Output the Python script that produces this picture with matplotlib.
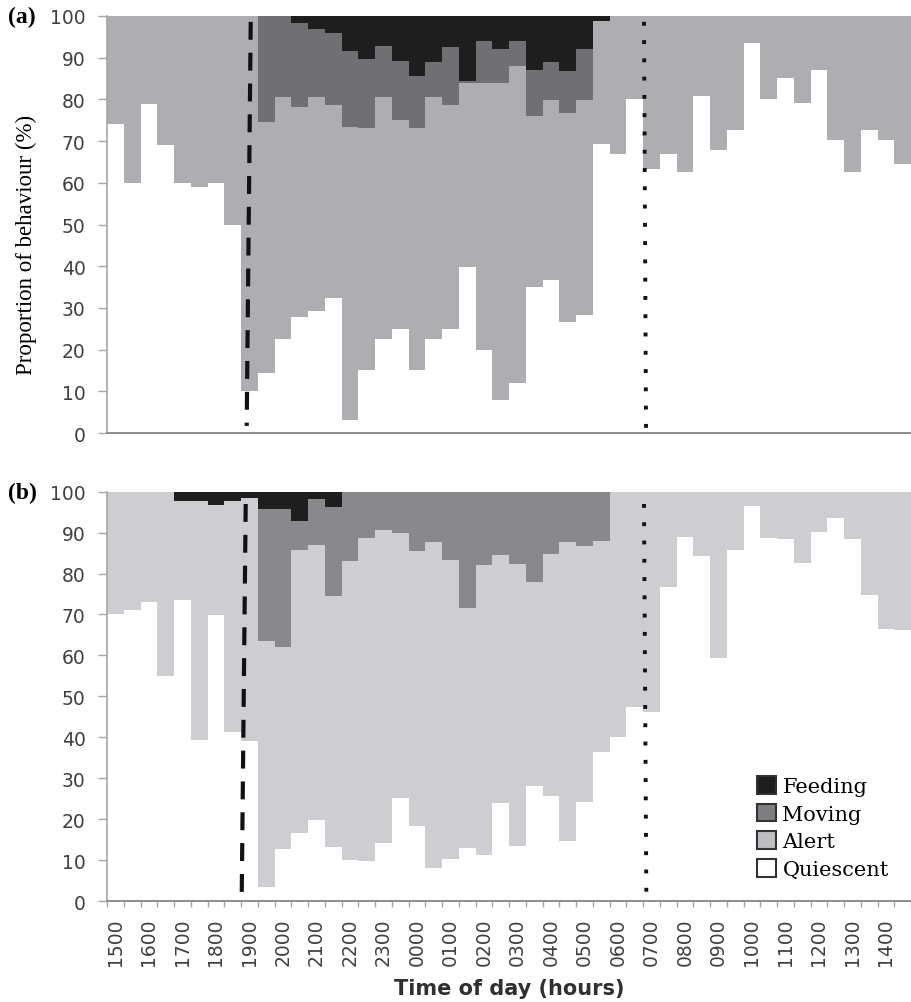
import matplotlib
matplotlib.use("Agg")
import matplotlib.pyplot as plt
from matplotlib.patches import Patch
import numpy as np

# half-hour bins, 1500 -> 1430 next day
hours = ["1500", "1600", "1700", "1800", "1900", "2000", "2100", "2200",
         "2300", "0000", "0100", "0200", "0300", "0400", "0500", "0600",
         "0700", "0800", "0900", "1000", "1100", "1200", "1300", "1400"]
behaviours = ["Feeding", "Moving", "Alert", "Quiescent"]

# panel (a), % of each behaviour per bin
quiescent_a = [74, 60, 79, 69, 60, 59, 60, 50, 10, 14.4, 22.6, 27.9,
               29.2, 32.4, 3.2, 15, 22.6, 25, 15, 22.6, 25, 39.9, 20, 8,
               12, 34.9, 36.7, 26.7, 28.2, 69.2, 66.8, 80, 63.4, 67, 62.7, 80.8,
               67.9, 72.6, 93.5, 80.2, 85.2, 79.2, 87, 70.2, 62.7, 72.6, 70.2, 64.4]
alert_a = [26, 40, 21, 31, 40, 41, 40, 50, 90, 60.1, 57.9, 50.2,
           51.3, 46.3, 70.3, 58.1, 57.9, 50.1, 58.1, 57.9, 53.7, 44.0, 63.9, 75.9,
           75.9, 41.2, 43.2, 50.0, 51.7, 29.6, 33.2, 20, 36.6, 33, 37.3, 19.2,
           32.1, 27.4, 6.5, 19.8, 14.8, 20.8, 13, 29.8, 37.3, 27.4, 29.8, 35.6]
moving_a = [0, 0, 0, 0, 0, 0, 0, 0, 0, 25.5, 19.5, 20.2,
            16.5, 17.2, 18.2, 16.6, 12.4, 14.2, 12.4, 8.5, 13.8, 0.4, 10.0, 8.2,
            6.0, 11.0, 9.1, 10.2, 12.2, 0, 0, 0, 0, 0, 0, 0,
            0, 0, 0, 0, 0, 0, 0, 0, 0, 0, 0, 0]
feeding_a = [0, 0, 0, 0, 0, 0, 0, 0, 0, 0, 0, 1.7,
             3.0, 4.1, 8.3, 10.3, 7.1, 10.7, 14.5, 11.0, 7.5, 15.7, 6.1, 7.9,
             6.1, 12.9, 11.0, 13.1, 7.9, 1.2, 0, 0, 0, 0, 0, 0,
             0, 0, 0, 0, 0, 0, 0, 0, 0, 0, 0, 0]

# panel (b)
quiescent_b = [70, 71.1, 73.1, 55, 73.6, 39.4, 69.9, 41.2, 39.2, 3.5, 12.7, 16.6,
               19.9, 13.3, 10, 9.7, 14.1, 25.1, 18.4, 8.1, 10.3, 12.9, 11.2, 23.9,
               13.5, 28.2, 25.7, 14.7, 24.3, 36.3, 40, 47.5, 46.1, 76.6, 89, 84.4,
               59.3, 85.7, 96.6, 88.8, 88.4, 82.6, 90.1, 93.5, 88.4, 74.8, 66.4, 66.3]
alert_b = [30, 28.9, 26.9, 45, 24.2, 58.4, 26.8, 56.6, 59.2, 60.1, 49.4, 69.2,
           67.1, 61.1, 73, 79.1, 76.6, 64.8, 67, 79.7, 73, 58.7, 70.9, 60.7,
           68.8, 49.7, 59.1, 73.1, 62.5, 51.7, 60, 52.5, 53.9, 23.4, 11, 15.6,
           40.7, 14.3, 3.4, 11.2, 11.6, 17.4, 9.9, 6.5, 11.6, 25.2, 33.6, 33.7]
moving_b = [0, 0, 0, 0, 0, 0, 0, 0, 0, 32.2, 33.7, 7.0,
            11.2, 21.9, 17, 11.2, 9.3, 10.1, 14.6, 12.2, 16.7, 28.4, 17.9, 15.4,
            17.7, 22.1, 15.2, 12.2, 13.2, 12, 0, 0, 0, 0, 0, 0,
            0, 0, 0, 0, 0, 0, 0, 0, 0, 0, 0, 0]
feeding_b = [0, 0, 0, 0, 2.2, 2.2, 3.3, 2.2, 1.6, 4.2, 4.2, 7.2,
             1.8, 3.7, 0, 0, 0, 0, 0, 0, 0, 0, 0, 0,
             0, 0, 0, 0, 0, 0, 0, 0, 0, 0, 0, 0,
             0, 0, 0, 0, 0, 0, 0, 0, 0, 0, 0, 0]

colors_a = ["#1f1d1e", "#6f7074", "#adaeb2", "white"]
colors_b = ["#1f1d1e", "#88898d", "#cdced1", "white"]
legend_colors = ["#1f1d1e", "#7d7e82", "#bebfc2", "white"]

fig = plt.figure(figsize=(9.11, 10.03), dpi=100)
ax_a = fig.add_axes([107 / 911, 1 - 434 / 1003, 804 / 911, 417 / 1003])
ax_b = fig.add_axes([107 / 911, 1 - 902 / 1003, 804 / 911, 409.3 / 1003])


def draw_panel(ax, series, colors):
    # stack bottom-up, then draw tallest first so layers overlap cleanly
    edges = np.arange(len(series[0]) + 1)
    tops = np.cumsum(np.array(series[::-1], dtype=float), axis=0)[::-1]
    for top, c in zip(tops, colors):
        ax.stairs(top, edges, baseline=0, fill=True, color=c, lw=0)
    ax.set_xlim(0, len(edges) - 1)
    ax.set_ylim(0, 100)
    ax.set_yticks(range(0, 101, 10))
    for s in ["top", "right"]:
        ax.spines[s].set_visible(False)
    ax.spines["left"].set_color("#a6a6a6")
    ax.spines["left"].set_linewidth(1.2)
    ax.spines["bottom"].set_color("#8c8c8c")
    ax.spines["bottom"].set_linewidth(1.4)
    ax.tick_params(axis="y", length=6.5, width=1, color="#a6a6a6",
                   labelsize=13.5, labelcolor="#404040", pad=9)


draw_panel(ax_a, [feeding_a, moving_a, alert_a, quiescent_a], colors_a)
draw_panel(ax_b, [feeding_b, moving_b, alert_b, quiescent_b], colors_b)

ax_a.set_xticks([])
ax_b.set_xticks(np.arange(0, 49), labels=[])
ax_b.set_xticks(np.arange(0.5, 48, 2), labels=hours, minor=True)
ax_b.tick_params(axis="x", which="major", length=4.5, width=1, color="#a6a6a6")
ax_b.tick_params(axis="x", which="minor", length=0, rotation=90, labelsize=13.5,
                 labelcolor="#404040", pad=12)

# sunset (dashed) and sunrise (dotted) markers
ax_a.plot([8.58, 8.34], [98.6, 1.7], color="#111111", lw=3,
          linestyle=(0, (4.3, 3.1)), solid_capstyle="butt")
ax_a.plot([32.06, 32.18], [98.6, 1], color="#111111", lw=2.8,
          linestyle=(0, (1, 3.7)))
ax_b.plot([8.28, 8.04], [97, 0], color="#111111", lw=3,
          linestyle=(0, (4.3, 3.1)), solid_capstyle="butt")
ax_b.plot([32.06, 32.2], [97, 1], color="#111111", lw=2.8,
          linestyle=(0, (1, 3.7)))

ax_a.set_ylabel("Proportion of behaviour (%)", family="Liberation Serif",
                fontsize=16.5)
ax_a.yaxis.set_label_coords(-0.087, 0.453)
ax_b.set_xlabel("Time of day (hours)", fontweight="bold", fontsize=15,
                color="#303030", labelpad=9)

fig.text(22 / 911, 1 - 17 / 1003, "(a)", family="Liberation Serif",
         fontweight="bold", fontsize=17, ha="center", va="center")
fig.text(22 / 911, 1 - 493 / 1003, "(b)", family="Liberation Serif",
         fontweight="bold", fontsize=17, ha="center", va="center")

handles = [Patch(facecolor=c, edgecolor="#333333", lw=1.5) for c in legend_colors]
ax_b.legend(handles, behaviours, loc="upper left", frameon=False,
            bbox_to_anchor=(757 / 911, 1 - 777 / 1003),
            bbox_transform=fig.transFigure, borderpad=0, borderaxespad=0,
            handlelength=0.92, handleheight=0.92, handletextpad=0.3,
            labelspacing=0.37, prop={"family": "DejaVu Serif", "size": 15})

fig.savefig("out.png", dpi=100)
